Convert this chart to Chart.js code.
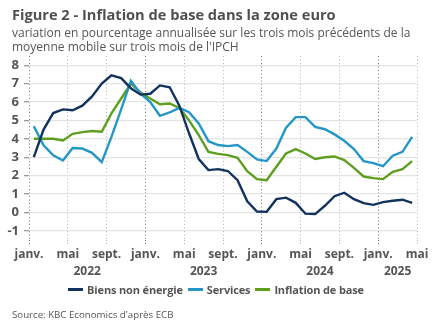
<!DOCTYPE html>
<html>
<head>
<meta charset="utf-8">
<script src="https://cdn.jsdelivr.net/npm/chart.js"></script>
<style>
  html, body { margin: 0; padding: 0; background: #fff; }
  #wrap { position: relative; width: 432px; height: 334px; overflow: hidden; font-family: "Open Sans", sans-serif; color: #555; }
  #chart { position: absolute; left: 0; top: 0; }
  .title { position: absolute; left: 12px; top: 4px; font-size: 14.6px; font-weight: bold; color: #505050; white-space: nowrap; }
  .sub { position: absolute; left: 12px; top: 26px; font-size: 12px; line-height: 14px; color: #555; white-space: nowrap; }
  .legend { position: absolute; left: 0; width: 432px; top: 282px; display: flex; justify-content: center; font-size: 11px; letter-spacing: -0.15px; font-weight: bold; color: #555; white-space: nowrap; }
  .legend span { display: flex; align-items: center; margin: 0 2.5px; }
  .legend i { display: inline-block; width: 15px; height: 2.5px; margin-right: 4px; }
  .source { position: absolute; left: 12px; top: 308px; font-size: 9.7px; color: #555; white-space: nowrap; }
</style>
</head>
<body>
<div id="wrap">
  <canvas id="chart" width="432" height="334"></canvas>
  <div class="title">Figure 2 - Inflation de base dans la zone euro</div>
  <div class="sub">variation en pourcentage annualisée sur les trois mois précédents de la<br>moyenne mobile sur trois mois de l'IPCH</div>
  <div class="legend" id="legend"></div>
  <div class="source">Source: KBC Economics d'après ECB</div>
</div>
<script>
// monthly data, janv. 2022 - avril 2025
const months = [
  "2022-01","2022-02","2022-03","2022-04","2022-05","2022-06","2022-07","2022-08","2022-09","2022-10","2022-11","2022-12",
  "2023-01","2023-02","2023-03","2023-04","2023-05","2023-06","2023-07","2023-08","2023-09","2023-10","2023-11","2023-12",
  "2024-01","2024-02","2024-03","2024-04","2024-05","2024-06","2024-07","2024-08","2024-09","2024-10","2024-11","2024-12",
  "2025-01","2025-02","2025-03","2025-04"
];
const biensNonEnergie = [3.0, 4.5, 5.4, 5.6, 5.55, 5.8, 6.3, 7.0, 7.45, 7.3, 6.75, 6.4, 6.45, 6.9, 6.8, 5.8, 4.3, 2.9, 2.3, 2.35, 2.25, 1.75, 0.6, 0.05, 0.03, 0.72, 0.8, 0.52, -0.07, -0.09, 0.36, 0.88, 1.07, 0.72, 0.5, 0.41, 0.56, 0.63, 0.69, 0.52];
const services = [4.68, 3.65, 3.1, 2.82, 3.5, 3.47, 3.24, 2.73, 4.1, 5.6, 7.15, 6.45, 6.0, 5.25, 5.43, 5.68, 5.45, 4.83, 3.87, 3.66, 3.6, 3.66, 3.29, 2.88, 2.79, 3.47, 4.6, 5.18, 5.18, 4.65, 4.52, 4.24, 3.89, 3.44, 2.79, 2.68, 2.51, 3.08, 3.29, 4.11];
const inflationBase = [4.0, 4.0, 4.0, 3.91, 4.27, 4.36, 4.42, 4.38, 5.38, 6.19, 7.0, 6.52, 6.19, 5.88, 5.92, 5.68, 5.0, 4.2, 3.29, 3.18, 3.11, 2.97, 2.24, 1.81, 1.75, 2.48, 3.2, 3.44, 3.2, 2.9, 3.0, 3.04, 2.84, 2.42, 1.95, 1.86, 1.81, 2.21, 2.35, 2.79];

const monthTicks = ["janv.", "mai", "sept."];
const yTicks = [-1, 0, 1, 2, 3, 4, 5, 6, 7, 8];
const years = ["2022", "2023", "2024", "2025"];
const yearPos = [6, 18, 30, 38]; // middle of each year on the month axis

const grey = "#555";
const font = { family: "Open Sans", size: 12, weight: "bold" };

// points sit in the middle of their month
const toPoints = (vals) => vals.map((v, i) => ({ x: i + 0.5, y: v }));

const series = [
  { label: "Biens non énergie", data: biensNonEnergie, color: "#12335f" },
  { label: "Services", data: services, color: "#2497c7" },
  { label: "Inflation de base", data: inflationBase, color: "#5f9f1f" },
];

// html legend
const legendEl = document.getElementById("legend");
series.forEach((s) => {
  const item = document.createElement("span");
  item.innerHTML = '<i style="background:' + s.color + '"></i>' + s.label;
  legendEl.appendChild(item);
});

new Chart(document.getElementById("chart"), {
  type: "line",
  data: {
    datasets: series.map((s) => ({
      label: s.label,
      data: toPoints(s.data),
      borderColor: s.color,
      backgroundColor: s.color,
      borderWidth: 2.4,
      pointRadius: 0,
      tension: 0,
    })),
  },
  options: {
    responsive: false,
    animation: false,
    devicePixelRatio: 1,
    layout: { padding: { top: 56, right: 15, bottom: 54, left: 0 } },
    plugins: {
      tooltip: { enabled: false },
      legend: { display: false },
    },
    scales: {
      x: {
        type: "linear",
        min: 0,
        max: 40,
        weight: 0,
        afterBuildTicks: (axis) => {
          const t = [];
          for (let v = 0; v <= 40; v += 4) t.push({ value: v });
          axis.ticks = t;
        },
        afterFit: (axis) => {
          axis.height = 22;
        },
        ticks: {
          autoSkip: false,
          maxRotation: 0,
          padding: 2,
          color: grey,
          font: font,
          callback: (v) => monthTicks[(v / 4) % 3],
        },
        grid: {
          color: (ctx) => (ctx.tick && ctx.tick.value % 12 === 0 ? "#7a7a7a" : "#b5b5b5"),
          lineWidth: 1,
          tickLength: 5,
          tickBorderDash: [1, 2],
        },
        border: { display: false, dash: [1, 2.5] },
      },
      x2: {
        type: "linear",
        position: "bottom",
        min: 0,
        max: 40,
        weight: 1,
        afterBuildTicks: (axis) => {
          axis.ticks = yearPos.map((v) => ({ value: v }));
        },
        afterFit: (axis) => {
          axis.height = 18;
        },
        ticks: {
          autoSkip: false,
          maxRotation: 0,
          padding: 2,
          color: grey,
          font: font,
          callback: (v, i) => years[i],
        },
        grid: { display: false, drawTicks: false },
        border: { display: false },
      },
      y: {
        min: -1.5,
        max: 8.5,
        afterBuildTicks: (axis) => {
          axis.ticks = yTicks.map((v) => ({ value: v }));
        },
        afterFit: (axis) => {
          axis.width = 29;
        },
        ticks: { padding: 5, color: grey, font: { family: "Open Sans", size: 13, weight: "bold" } },
        grid: { color: "#e4e4e4", lineWidth: 1.3, tickColor: "#999", tickLength: 5 },
        border: { display: false },
      },
    },
  },
});
</script>
</body>
</html>
